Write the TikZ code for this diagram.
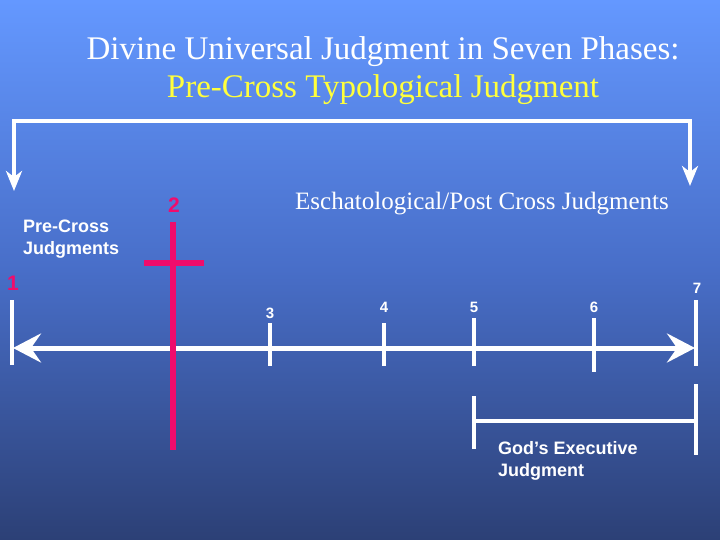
\documentclass[tikz,border=0pt]{standalone}
\usepackage{fontspec}
\setmainfont{Liberation Serif}
\setsansfont{Liberation Sans}
\usetikzlibrary{arrows.meta}
\definecolor{bgtop}{RGB}{100,152,255}
\definecolor{bgmid}{RGB}{72,110,200}
\definecolor{bgbot}{RGB}{44,64,118}
\definecolor{crosspink}{RGB}{240,12,108}
\definecolor{titleyellow}{RGB}{255,255,60}
\tikzset{
  bigline/.style={white, line width=5pt},
  tickline/.style={white, line width=4.5pt},
  brline/.style={white, line width=4pt},
  execline/.style={white, line width=3.3pt},
  crossline/.style={crosspink, line width=5.5pt},
  titletext/.style={inner sep=0pt, font=\fontsize{33}{38}\selectfont},
  labeltext/.style={inner sep=0pt, text=white, font=\sffamily\bfseries\fontsize{18}{22}\selectfont, align=left},
  numtext/.style={inner sep=0pt, text=white, font=\sffamily\bfseries\fontsize{15}{18}\selectfont},
  pinknum/.style={inner sep=0pt, text=crosspink, font=\sffamily\bfseries\fontsize{21}{24}\selectfont},
}
\begin{document}
\begin{tikzpicture}[x=1pt,y=-1pt]
\useasboundingbox (0,0) rectangle (720,540);
\fill[top color=bgtop, bottom color=bgbot, middle color=bgmid] (0,0) rectangle (720,540);
% titles
\node[titletext, text=white] (t1) at (383,52) {Divine Universal Judgment in Seven Phases:};
\node[titletext, text=titleyellow] (t2) at (383,90) {Pre-Cross Typological Judgment};
% top bracket
\coordinate (bl) at (14,121);
\coordinate (br) at (690,121);
\coordinate (blt) at (14,191);
\coordinate (brt) at (690,186);
\draw[brline, -{Stealth[length=20pt,width=16pt,inset=6pt]}] (br) -- (bl) -- (blt);
\draw[brline, -{Stealth[length=20pt,width=16pt,inset=6pt]}] (bl) -- (br) -- (brt);
% labels
\node[inner sep=0pt, text=white, font=\fontsize{25}{28}\selectfont] (esc) at (482,204) {Eschatological/Post Cross Judgments};
\node[pinknum] (n2) at (174,205) {2};
\node[labeltext, anchor=west] (pre) at (23,239) {Pre-Cross\\Judgments};
\node[pinknum] (n1) at (13,283) {1};
% cross
\coordinate (cT) at (173,222);
\coordinate (cB) at (173,450);
\coordinate (cL) at (144,263);
\coordinate (cR) at (204,263);
% timeline
\coordinate (tl) at (13,348);
\coordinate (tr) at (695,348);
\draw[bigline, {Stealth[length=28pt,width=29pt,inset=10pt]}-{Stealth[length=28pt,width=29pt,inset=10pt]}] (tl) -- (tr);
% ticks
\coordinate (k1a) at (12,300); \coordinate (k1b) at (12,365);
\coordinate (k3a) at (270,323); \coordinate (k3b) at (270,366);
\coordinate (k4a) at (384,323); \coordinate (k4b) at (384,366);
\coordinate (k5a) at (474,318); \coordinate (k5b) at (474,366);
\coordinate (k6a) at (594,318); \coordinate (k6b) at (594,372);
\coordinate (k7a) at (696,300); \coordinate (k7b) at (696,366);
\foreach \k in {1,3,4,5,6,7} {\draw[tickline] (k\k a) -- (k\k b);}
\draw[crossline] (cT) -- (cB);
\draw[crossline] (cL) -- (cR);
\node[numtext] (n3) at (270,313) {3};
\node[numtext] (n4) at (384,307) {4};
\node[numtext] (n5) at (474,307) {5};
\node[numtext] (n6) at (594,307) {6};
\node[numtext] (n7) at (697,288) {7};
% executive bracket
\coordinate (eLa) at (474,396); \coordinate (eLb) at (474,449);
\coordinate (eRa) at (696,384); \coordinate (eRb) at (696,455);
\coordinate (eL) at (474,421); \coordinate (eR) at (696,421);
\draw[execline] (eLa) -- (eLb);
\draw[execline] (eRa) -- (eRb);
\draw[execline] (eL) -- (eR);
\node[labeltext, anchor=west] (god) at (498,461) {God’s Executive\\Judgment};
\end{tikzpicture}
\end{document}
